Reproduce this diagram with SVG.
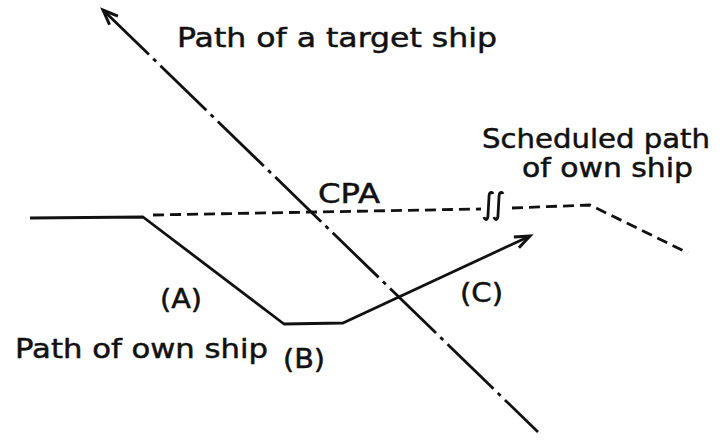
<svg xmlns="http://www.w3.org/2000/svg" width="721" height="446" viewBox="0 0 721 446">
<style>
.ln{fill:none;stroke:#111;stroke-width:2.8;stroke-linecap:butt;stroke-linejoin:round}
.dd{stroke-dasharray:64 6 4 6}
.da{stroke-dasharray:11 6}
.t{font-family:"DejaVu Sans","Liberation Sans",sans-serif;font-size:27px;fill:#111;stroke:#111;stroke-width:0.5}
</style>
<defs>
<marker id="ah" markerWidth="20" markerHeight="20" refX="16" refY="8" orient="auto-start-reverse" markerUnits="userSpaceOnUse" viewBox="0 0 20 16">
<path d="M1,2 L16,8 L1,14" fill="none" stroke="#111" stroke-width="3" stroke-dasharray="none" stroke-linejoin="miter"/>
</marker>
</defs>
<rect width="721" height="446" fill="#fff"/>
<g id="connectors">
<path id="target-path" class="ln dd" d="M103,10 L538,432" marker-start="url(#ah)"/>
<path id="own-path" class="ln" d="M30,218 L143,217 L284,324 L343,323 L530,236" marker-end="url(#ah)"/>
<path id="scheduled-1" class="ln da" d="M153,215 L481,209"/>
<path id="scheduled-2" class="ln da" d="M512,208 L590,205 L688,253"/>
<path id="break" class="ln" d="M484,217 C485,221 488,220 488,215 L489,197 C489,192 492,191 493,194 M494,217 C495,221 498,220 498,215 L499,197 C499,192 502,191 503,194"/>
</g>
<g id="label-target"><text class="t" x="177" y="47" textLength="320" lengthAdjust="spacingAndGlyphs">Path of a target ship</text></g>
<g id="label-scheduled"><text class="t" x="482" y="148" textLength="228" lengthAdjust="spacingAndGlyphs">Scheduled path</text>
<text class="t" x="522" y="177" textLength="171" lengthAdjust="spacingAndGlyphs">of own ship</text></g>
<g id="label-cpa"><text class="t" x="318" y="203" textLength="62" lengthAdjust="spacingAndGlyphs">CPA</text></g>
<g id="label-a"><text class="t" x="160" y="308" textLength="42" lengthAdjust="spacingAndGlyphs">(A)</text></g>
<g id="label-own"><text class="t" x="15" y="358" textLength="253" lengthAdjust="spacingAndGlyphs">Path of own ship</text></g>
<g id="label-b"><text class="t" x="283" y="368" textLength="42" lengthAdjust="spacingAndGlyphs">(B)</text></g>
<g id="label-c"><text class="t" x="460" y="302" textLength="43" lengthAdjust="spacingAndGlyphs">(C)</text></g>
</svg>
